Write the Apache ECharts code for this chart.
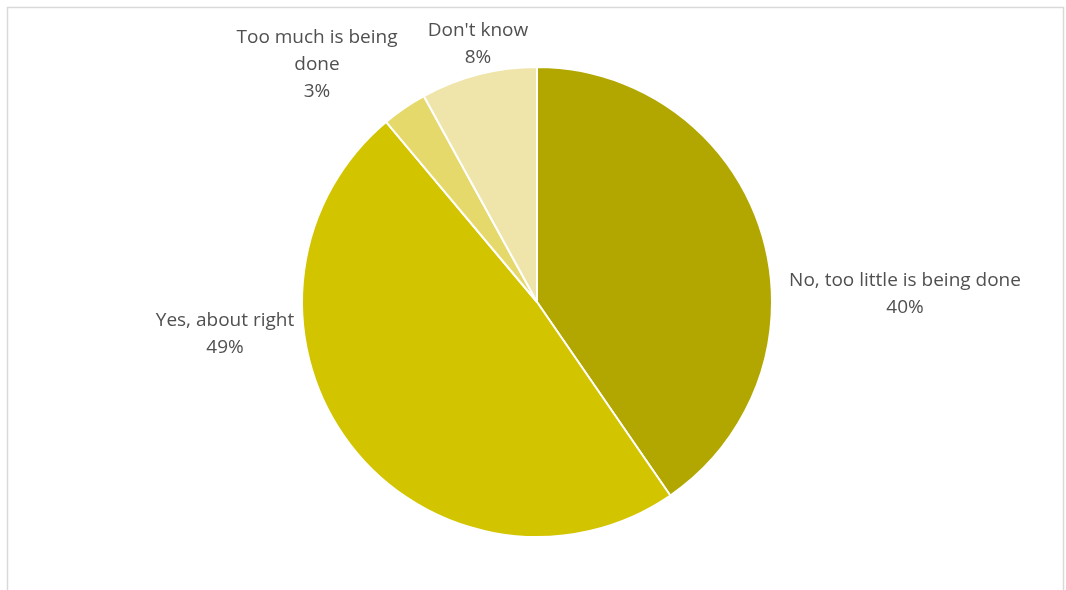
<!DOCTYPE html>
<html>
<head>
<meta charset="utf-8">
<script src="https://cdn.jsdelivr.net/npm/echarts@6/dist/echarts.min.js"></script>
<style>
html,body{margin:0;padding:0;background:#fff;overflow:hidden;}
#chart{width:1066px;height:590px;}
</style>
</head>
<body>
<div id="chart"></div>
<script>
const categories = ["No, too little is being done", "Yes, about right", "Too much is being\ndone", "Don't know"];
const values = [40.4, 48.5, 3.1, 8.0];
const colors = ["#B2A700", "#D3C400", "#E6D96C", "#EFE5AB"];

// label anchor positions (text layout only)
const labelPos = [[905, 294], [225, 334], [317, 65], [478, 44]];

const chart = echarts.init(document.getElementById('chart'), null, {renderer: 'canvas'});
chart.setOption({
  animation: false,
  backgroundColor: '#fff',
  graphic: [{
    type: 'rect',
    shape: {x: 7.5, y: 7.5, width: 1056, height: 620},
    style: {fill: 'none', stroke: '#D9D9D9', lineWidth: 1.5},
    silent: true
  }],
  series: [{
    type: 'pie',
    center: [537, 302],
    radius: [0, 235],
    startAngle: 90,
    clockwise: true,
    data: categories.map((c, i) => ({name: c, value: values[i], itemStyle: {color: colors[i]}})),
    itemStyle: {borderColor: '#fff', borderWidth: 2},
    label: {
      show: true,
      position: 'outside',
      formatter: p => p.name + '\n' + Math.round(p.value) + '%',
      fontFamily: 'Open Sans',
      fontSize: 19,
      lineHeight: 27,
      color: '#505050',
      align: 'center'
    },
    labelLine: {show: false},
    labelLayout: p => ({
      x: labelPos[p.dataIndex][0],
      y: labelPos[p.dataIndex][1],
      align: 'center',
      verticalAlign: 'middle',
      hideOverlap: false
    })
  }]
});
</script>
</body>
</html>
